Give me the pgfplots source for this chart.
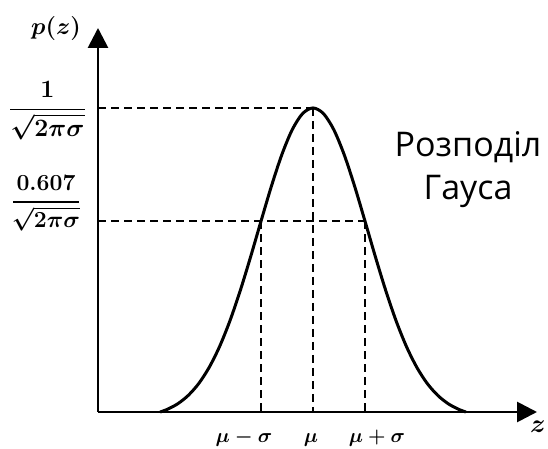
\RequirePackage{fix-cm}
\documentclass[border=0pt]{standalone}
\usepackage{amsmath}
\usepackage{fontspec}
\newfontfamily\uafont{Open Sans}
\usepackage{pgfplots}
\pgfplotsset{compat=1.18}
\usetikzlibrary{arrows.meta}
\begin{document}
\begin{tikzpicture}[x=1pt,y=1pt]
\useasboundingbox (0,0) rectangle (548,449);
\begin{axis}[
  at={(98pt,37pt)}, anchor=south west, scale only axis,
  width=439pt, height=384pt,
  xmin=-4.135, xmax=4.308, ymin=0, ymax=1.263,
  axis lines=left,
  axis line style={line width=2.8pt, -{Triangle[length=20pt,width=20pt]}},
  ticks=none, clip=false,
]
\addplot[line width=1.8pt, dash pattern=on 8pt off 5pt] coordinates {(-4.135,1) (0,1)};
\addplot[line width=1.8pt, dash pattern=on 8pt off 5pt] coordinates {(0,1) (0,0)};
\addplot[line width=1.8pt, dash pattern=on 8pt off 5pt] coordinates {(-4.135,0.6277) (1,0.6277)};
\addplot[line width=1.8pt, dash pattern=on 8pt off 5pt] coordinates {(-1,0.6277) (-1,0)};
\addplot[line width=1.8pt, dash pattern=on 8pt off 5pt] coordinates {(1,0.6277) (1,0)};
\addplot[line width=3pt, smooth] coordinates {
(-2.94,0) (-2.8,0.0089) (-2.6,0.0272) (-2.4,0.0545) (-2.2,0.0931) (-2.0,0.1458)
(-1.8,0.2141) (-1.6,0.2989) (-1.4,0.3989) (-1.2,0.5104) (-1.0,0.6277) (-0.8,0.7427)
(-0.6,0.8462) (-0.4,0.9285) (-0.2,0.9816) (0,1)
(0.2,0.9816) (0.4,0.9285) (0.6,0.8462) (0.8,0.7427) (1.0,0.6277) (1.2,0.5104)
(1.4,0.3989) (1.6,0.2989) (1.8,0.2141) (2.0,0.1458) (2.2,0.0931) (2.4,0.0545)
(2.6,0.0272) (2.8,0.0089) (2.94,0)};
\end{axis}
\tikzset{lab/.style={anchor=base, font=\fontsize{#1}{#1}\selectfont\boldmath, inner sep=0pt}}
\node[lab=25] at (47.5,333) {$\dfrac{\textbf{1}\rule[-3pt]{0pt}{0pt}}{\sqrt{2\pi\sigma}}$};
\node[lab=23] at (46,258) {\textbf{0.607}};
\node[anchor=center, inner sep=0pt] at (46,247) {\rule{66pt}{1.3pt}};
\node[lab=23] at (46,221) {$\sqrt{2\pi\sigma}$};
\node[lab=20] at (244,6) {$\mu-\sigma$};
\node[lab=20] at (311,6) {$\mu$};
\node[lab=20] at (377,6) {$\mu+\sigma$};
\node[lab=26] at (538,16) {$z$};
\node[lab=24] at (56,414) {$p(z)$};
\node[anchor=base, font=\uafont\fontsize{34}{40}\selectfont] at (468,292) {Розподіл};
\node[anchor=base, font=\uafont\fontsize{34}{40}\selectfont] at (468,249) {Гауса};
\end{tikzpicture}
\end{document}
